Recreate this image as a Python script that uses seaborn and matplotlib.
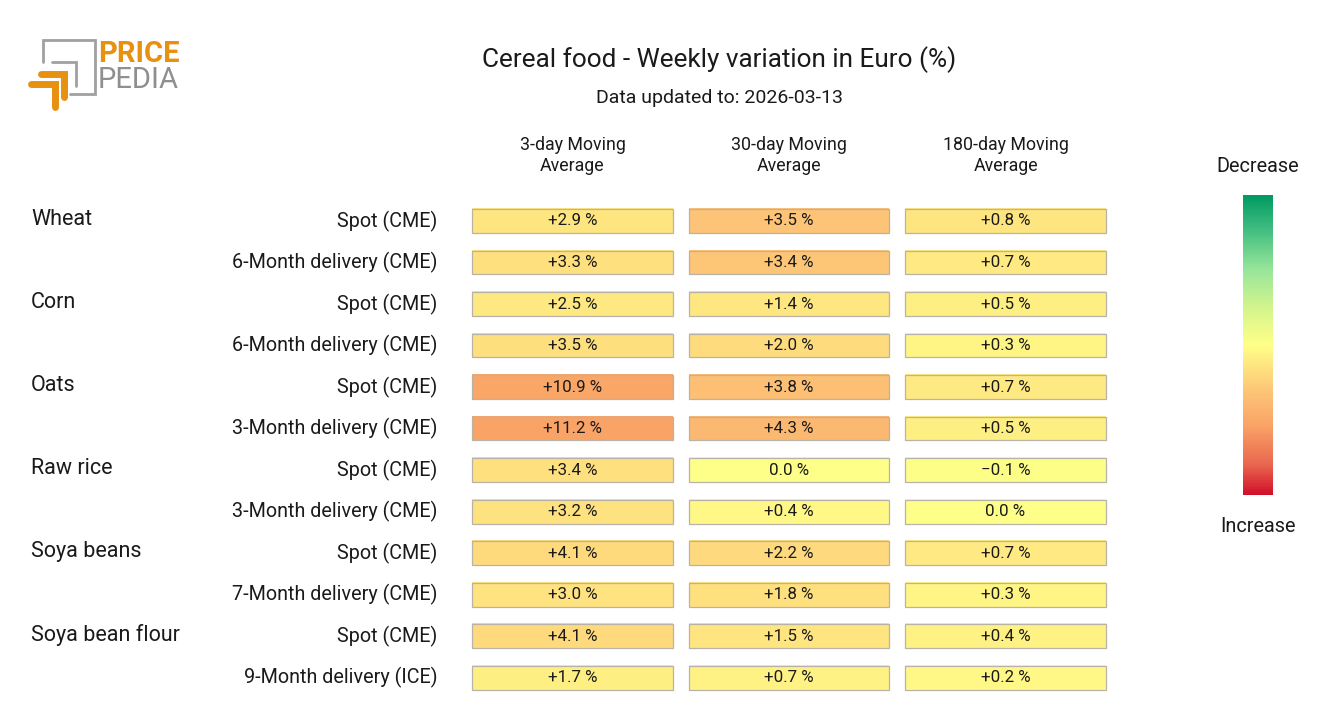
import matplotlib
matplotlib.use('Agg')
import matplotlib.pyplot as plt
import matplotlib.transforms as mtransforms
from matplotlib.colors import LinearSegmentedColormap
from matplotlib.patches import Rectangle
import seaborn as sns
import pandas as pd
import numpy as np

# dati
groups = ['Wheat', 'Corn', 'Oats', 'Raw rice', 'Soya beans', 'Soya bean flour']
rows = ['Spot (CME)', '6-Month delivery (CME)',
        'Spot (CME)', '6-Month delivery (CME)',
        'Spot (CME)', '3-Month delivery (CME)',
        'Spot (CME)', '3-Month delivery (CME)',
        'Spot (CME)', '7-Month delivery (CME)',
        'Spot (CME)', '9-Month delivery (ICE)']
columns = ['3-day Moving\nAverage', '30-day Moving\nAverage', '180-day Moving\nAverage']
ma3 = [2.9, 3.3, 2.5, 3.5, 10.9, 11.2, 3.4, 3.2, 4.1, 3.0, 4.1, 1.7]
ma30 = [3.5, 3.4, 1.4, 2.0, 3.8, 4.3, 0.0, 0.4, 2.2, 1.8, 1.5, 0.7]
ma180 = [0.8, 0.7, 0.5, 0.3, 0.7, 0.5, -0.1, 0.0, 0.7, 0.3, 0.4, 0.2]
# scala colore per colonna
col_scale = [21, 11, 6]

sns.set_theme(style='white')
plt.rcParams['font.family'] = ['Roboto', 'DejaVu Sans']
txt = '#1a1a1a'

df = pd.DataFrame({columns[0]: ma3, columns[1]: ma30, columns[2]: ma180})
df.index = rows
pos = df.copy()
for c, s in zip(columns, col_scale):
    pos[c] = 0.5 - 0.5 * df[c] / s
labels = df.apply(lambda col: col.map(lambda v: f'{v:+.1f} %' if v != 0 else '0.0 %'))
labels = labels.apply(lambda col: col.str.replace('-', '\u2212'))

cmap = LinearSegmentedColormap.from_list('pp', [
    (0.0, '#d0102a'), (0.1, '#e9664f'), (0.23, '#f9a366'), (0.35, '#fdc677'),
    (0.5, '#ffff88'), (0.62, '#d5f58c'), (0.75, '#98e69a'), (0.88, '#45bf82'), (1.0, '#009a62')])

fig = plt.figure(figsize=(13.2, 7.2), dpi=100)
ax = fig.add_axes([0.3517, 0.0301, 0.4921, 0.6918])
sns.heatmap(pos, annot=labels, fmt='', cmap=cmap, vmin=0, vmax=1, cbar=False,
            linewidths=11.5, linecolor='white', ax=ax,
            annot_kws={'fontsize': 12.2, 'color': txt})
ix, iy = 8 / 216.5, 8.8 / 41.6
for i in range(len(rows)):
    for j in range(len(columns)):
        ax.add_patch(Rectangle((j + ix, i + iy), 1 - 2 * ix, 1 - 2 * iy,
                               fill=False, edgecolor='#b8b3a6', lw=0.9))
ax.xaxis.tick_top()
ax.set_xticklabels(columns, fontsize=12.8, color=txt, linespacing=1.2)
ax.set_yticklabels(rows, fontsize=14.2, color=txt, rotation=0)
ax.tick_params(axis='x', length=0, pad=18)
ax.tick_params(axis='y', length=0, pad=19.5)
ax.set_xlabel('')
ax.set_ylabel('')

trans = mtransforms.blended_transform_factory(fig.transFigure, ax.transData)
for k, g in enumerate(groups):
    ax.text(31 / 1320, 2 * k + 0.47, g, transform=trans, fontsize=15.5,
            color=txt, va='center', ha='left')

fig.text(0.545, 0.917, 'Cereal food - Weekly variation in Euro (%)', ha='center',
         va='center', fontsize=18.8, color=txt)
fig.text(0.545, 0.864, 'Data updated to: 2026-03-13', ha='center', va='center',
         fontsize=14, color=txt)

# barra colori
cax = fig.add_axes([1243 / 1320, 1 - 495 / 720, 30 / 1320, 300 / 720])
sm = plt.cm.ScalarMappable(cmap=cmap, norm=plt.Normalize(0, 1))
cb = fig.colorbar(sm, cax=cax)
cb.outline.set_visible(False)
cb.set_ticks([])
fig.text(1258 / 1320, 1 - 167 / 720, 'Decrease', ha='center', va='center', fontsize=14.3, color=txt)
fig.text(1258 / 1320, 1 - 527 / 720, 'Increase', ha='center', va='center', fontsize=14.3, color=txt)

# logo
lax = fig.add_axes([0, 0, 1, 1], facecolor='none')
lax.set_xlim(0, 1320)
lax.set_ylim(720, 0)
lax.axis('off')
grey = '#a0a0a0'
orange = '#e8900f'
lax.plot([43, 43, 95, 95, 70], [62, 40, 40, 94, 94], color=grey, lw=2, solid_joinstyle='miter')
lax.plot([52, 76, 76], [62, 62, 86], color=grey, lw=2, solid_joinstyle='miter')
lax.plot([41, 64, 64], [74, 74, 97], color=orange, lw=5, solid_joinstyle='miter')
lax.plot([31, 55, 55], [84, 84, 107], color=orange, lw=5, solid_joinstyle='miter')
lax.text(98, 54, 'PRICE', color=orange, fontsize=21, fontweight='bold', va='center', ha='left')
lax.text(98, 80, 'PEDIA', color='#8f8f8f', fontsize=21, fontweight='normal', va='center', ha='left')

fig.savefig('out.png', dpi=100, facecolor='white')
